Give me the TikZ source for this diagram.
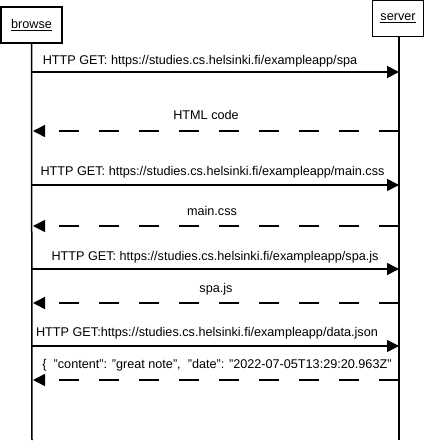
\documentclass[tikz,border=0pt]{standalone}
\usepackage{fontspec}
\setmainfont[Ligatures=NoCommon]{Liberation Sans}
\usetikzlibrary{arrows.meta}

\begin{document}
\begin{tikzpicture}[
        x=1bp, y=-1bp,
        actor/.style={draw, line width=1.5bp, minimum height=36bp, inner sep=3bp, font=\fontsize{12.7}{14}\selectfont},
        lifeline/.style={line width=1.5bp},
        request/.style={-{Triangle[length=12bp, width=12bp]}, line width=1.5bp},
        reply/.style={-{Triangle[length=12bp, width=12bp]}, line width=1.5bp, dash pattern=on 20bp off 20bp},
        msg/.style={inner sep=0pt, font=\fontsize{12.7}{14}\selectfont}
    ]
        \useasboundingbox (0,0) rectangle (428,445);

        % Actors
        \node[actor, minimum width=61bp] (browse) at (31.5,25) {\underline{browse}};
        \node[actor, minimum width=51bp] (server) at (398,18.5) {\underline{server}};

        % Lifelines
        \coordinate (browse end) at (32,440);
        \coordinate (server end) at (399,440);
        \draw[lifeline] (browse) -- (browse end);
        \draw[lifeline] (server.south -| server end) -- (server end);

        % Message points
        \coordinate (b1) at (32,72);   \coordinate (s1) at (399,72);
        \coordinate (b2) at (33,131);  \coordinate (s2) at (399,131);
        \coordinate (b3) at (32,185);  \coordinate (s3) at (399,185);
        \coordinate (b4) at (33,226);  \coordinate (s4) at (399,226);
        \coordinate (b5) at (32,269);  \coordinate (s5) at (399,269);
        \coordinate (b6) at (33,303);  \coordinate (s6) at (399,303);
        \coordinate (b7) at (32,346);  \coordinate (s7) at (399,346);
        \coordinate (b8) at (33,380);  \coordinate (s8) at (399,380);

        % Messages
        \draw[request] (b1) -- (s1);
        \node[msg] (get spa) at (200,61) {HTTP GET: https://studies.cs.helsinki.fi/exampleapp/spa};
        \draw[reply] (s2) -- (b2);
        \node[msg] (html) at (206,115) {HTML code};
        \draw[request] (b3) -- (s3);
        \node[msg] (get css) at (212.5,172) {HTTP GET: https://studies.cs.helsinki.fi/exampleapp/main.css};
        \draw[reply] (s4) -- (b4);
        \node[msg] (css) at (212,211) {main.css};
        \draw[request] (b5) -- (s5);
        \node[msg] (get js) at (215,257) {HTTP GET: https://studies.cs.helsinki.fi/exampleapp/spa.js};
        \draw[reply] (s6) -- (b6);
        \node[msg] (js) at (216,289) {spa.js};
        \draw[request] (b7) -- (s7);
        \node[msg] (get json) at (207,333) {HTTP GET:https://studies.cs.helsinki.fi/exampleapp/data.json};
        \draw[reply] (s8) -- (b8);
        \node[msg] (json) at (217,365) {\{\ \ "content": "great note",\ \ "date": "2022-07-05T13:29:20.963Z"};
    \end{tikzpicture}
\end{document}
